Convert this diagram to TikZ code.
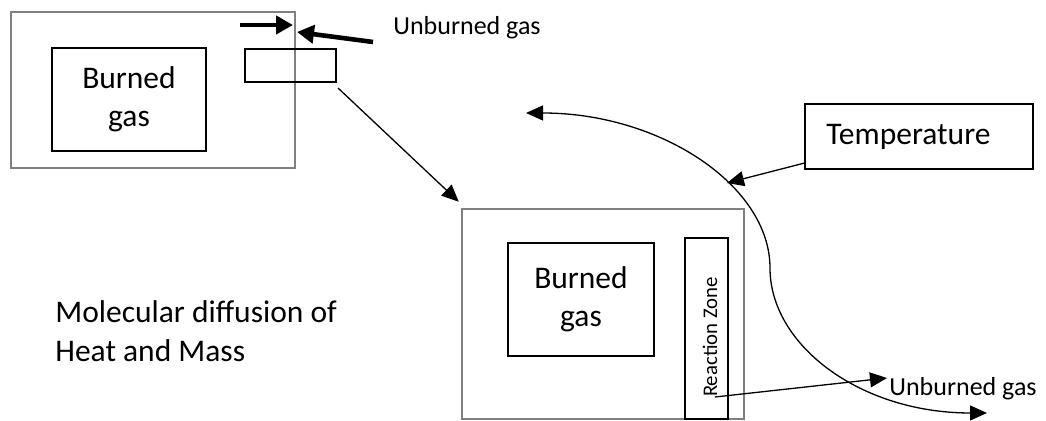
\documentclass[tikz,border=0pt]{standalone}
\usepackage{fontspec}
\setmainfont{Carlito}
\usetikzlibrary{arrows.meta,calc}
\definecolor{framegray}{RGB}{128,128,128}
\tikzset{
  frame/.style={draw=framegray, line width=1.25pt, inner sep=0pt},
  zone/.style={draw=black, line width=1.15pt, inner sep=0pt, align=center},
  bigtxt/.style={font=\fontsize{15.75}{19}\selectfont},
  midtxt/.style={font=\fontsize{13}{16}\selectfont},
  smalltxt/.style={font=\fontsize{10.4}{12.5}\selectfont},
  plain/.style={inner sep=0pt, anchor=base west},
  tip/.style={Triangle[length=8.5pt,width=7.5pt]},
  thin arrow/.style={line width=0.65pt, -{Triangle[length=8.5pt,width=7.5pt]}},
  thick arrow/.style={line width=2.3pt, -{Triangle[length=8.5pt,width=9pt]}},
}
\begin{document}
\begin{tikzpicture}[x=0.5pt,y=-0.5pt]
\useasboundingbox (0,0) rectangle (1046,421);

% upper picture: flame kernel with a small window on its edge
\node[frame, minimum width=142pt, minimum height=78pt] (topframe) at (153,90) {};
\node[zone, bigtxt, minimum width=77pt, minimum height=51.5pt] (topburned) at (129,99.5) {Burned\\gas};
\node[zone, line width=1pt, minimum width=45.5pt, minimum height=16.5pt] (window) at (290.5,65.5) {};

% unburned gas flowing in at the upper edge
\node[midtxt, plain] (unburnedtop) at (393,35) {Unburned gas};
\coordinate (inA) at (240,25);
\coordinate (inAend) at (293,25);
\coordinate (inB) at (373,42);
\coordinate (inBend) at (297,32);
\draw[thick arrow] (inA) -- (inAend);
\draw[thick arrow] (inB) -- (inBend);

% lower picture: enlarged window
\node[frame, minimum width=141pt, minimum height=105pt] (lowframe) at (603,314) {};
\node[zone, bigtxt, minimum width=73pt, minimum height=56.5pt] (lowburned) at (581,299.5) {Burned\\gas};
\node[zone, minimum width=21.5pt, minimum height=90.5pt] (rzone) at (706.5,328.5) {};
\node[smalltxt, rotate=90] (rzlabel) at (710,337) {Reaction Zone};

\draw[thin arrow] ([shift={(1,5)}]window.south east) -- ([shift={(-2,-6)}]lowframe.north west);

% temperature profile
\node[draw, line width=0.75pt, minimum width=114pt, minimum height=32.5pt] (tempbox) at (919,136.5) {};
\node[bigtxt, plain] (templabel) at (826,145) {Temperature};
\coordinate (arcstart) at (526,113);
\coordinate (arcmid) at (770,268);
\coordinate (arcend) at (987,413);
\coordinate (arcpoint) at (727,183);
\draw[line width=0.65pt, {Triangle[length=8.5pt,width=7.5pt]}-{Triangle[length=8.5pt,width=7.5pt]}]
  (arcstart) .. controls (661,113) and (770,186) .. (arcmid)
  .. controls (770,345) and (860,413) .. (arcend);
\draw[thin arrow] ($(tempbox.west)!0.8!(tempbox.south west)$) -- (arcpoint);

% unburned gas leaving the reaction zone
\node[midtxt, plain] (unburnedlow) at (889,396) {Unburned gas};
\coordinate (rzfoot) at (715,397);
\draw[thin arrow] (rzfoot) -- ([shift={(-2,-18)}]unburnedlow.base west);

% caption
\node[bigtxt, plain] (diffA) at (55,323) {Molecular diffusion of};
\node[bigtxt, plain] (diffB) at (55,362) {Heat and Mass};
\end{tikzpicture}
\end{document}
